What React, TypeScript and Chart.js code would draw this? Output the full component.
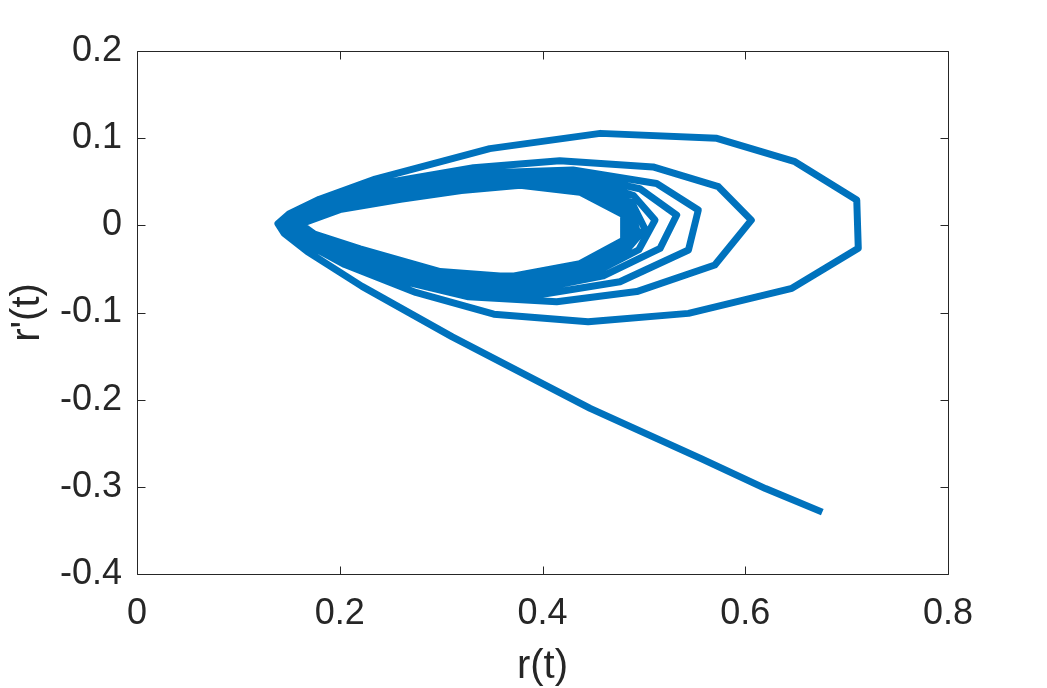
import { useEffect, useRef } from "react";
import { Chart, registerables } from "chart.js";

Chart.register(...registerables);

// Axis ticks
const xTicks = [0, 0.2, 0.4, 0.6, 0.8];
const xTickLabels = ["0", "0.2", "0.4", "0.6", "0.8"];
const yTicks = [-0.4, -0.3, -0.2, -0.1, 0, 0.1, 0.2];
const yTickLabels = ["-0.4", "-0.3", "-0.2", "-0.1", "0", "0.1", "0.2"];

const xTitle = "r(t)";
const yTitle = "r'(t)";

// Trajectory segments [r, r']
const tail: [number, number][] = [
  [0.676, -0.329], [0.62, -0.302], [0.557, -0.268], [0.447, -0.21],
  [0.311, -0.128], [0.222, -0.07], [0.168, -0.03], [0.145, -0.009],
];
const loop1: [number, number][] = [
  [0.139, 0.002], [0.15, 0.013], [0.18, 0.03], [0.235, 0.053], [0.348, 0.088],
  [0.457, 0.1055], [0.572, 0.0998], [0.649, 0.073], [0.71, 0.029], [0.7115, -0.0264],
  [0.646, -0.0723], [0.544, -0.101], [0.445, -0.1106], [0.352, -0.102], [0.275, -0.077],
  [0.205, -0.045], [0.162, -0.018],
];
const loop2: [number, number][] = [
  [0.142, 0.002], [0.155, 0.014], [0.19, 0.031], [0.236, 0.047], [0.332, 0.066],
  [0.417, 0.074], [0.509, 0.067], [0.5735, 0.0443], [0.606, 0.006], [0.57, -0.0455],
  [0.493, -0.076], [0.414, -0.0876], [0.327, -0.082], [0.262, -0.064], [0.205, -0.038],
  [0.165, -0.014],
];
const loop3: [number, number][] = [
  [0.145, 0.002], [0.16, 0.015], [0.2, 0.031], [0.255, 0.046], [0.34, 0.06],
  [0.43, 0.0634], [0.5126, 0.048], [0.5537, 0.0176], [0.544, -0.0283], [0.4764, -0.0647],
  [0.4, -0.079], [0.32, -0.077], [0.255, -0.06], [0.2, -0.034], [0.166, -0.012],
];
const loop4: [number, number][] = [
  [0.148, 0.002], [0.165, 0.015], [0.21, 0.032], [0.27, 0.046], [0.355, 0.057],
  [0.44, 0.056], [0.496, 0.042], [0.5324, 0.0118], [0.516, -0.0264], [0.46, -0.058],
  [0.39, -0.074], [0.31, -0.073], [0.245, -0.056], [0.195, -0.031], [0.167, -0.011],
];
const loop5: [number, number][] = [
  [0.15, 0.002], [0.168, 0.016], [0.215, 0.033], [0.28, 0.046], [0.365, 0.054],
  [0.445, 0.051], [0.49, 0.034], [0.511, 0.006], [0.495, -0.028], [0.45, -0.055],
  [0.38, -0.07], [0.3, -0.069], [0.238, -0.052], [0.19, -0.028], [0.168, -0.01],
];
const loop6: [number, number][] = [
  [0.152, 0.002], [0.172, 0.017], [0.22, 0.033], [0.29, 0.045], [0.372, 0.051],
  [0.445, 0.046], [0.488, 0.026], [0.501, -0.004], [0.478, -0.035], [0.425, -0.057],
  [0.355, -0.066], [0.285, -0.064], [0.228, -0.048], [0.185, -0.025], [0.166, -0.008],
];
const loop7: [number, number][] = [
  [0.154, 0.002], [0.176, 0.018], [0.225, 0.033], [0.3, 0.044], [0.378, 0.049],
  [0.447, 0.042], [0.486, 0.02], [0.494, -0.009], [0.468, -0.038], [0.41, -0.058],
  [0.34, -0.063], [0.275, -0.06], [0.222, -0.044], [0.182, -0.022], [0.165, -0.006],
];
const loop8: [number, number][] = [
  [0.156, 0.002], [0.18, 0.018], [0.23, 0.032], [0.305, 0.043], [0.38, 0.048],
  [0.443, 0.04], [0.483, 0.017], [0.489, -0.012], [0.46, -0.04], [0.4, -0.058],
  [0.33, -0.061], [0.268, -0.057], [0.218, -0.041], [0.18, -0.019], [0.164, -0.005],
];
const loop9: [number, number][] = [
  [0.158, 0.002], [0.185, 0.018], [0.235, 0.031], [0.31, 0.042], [0.382, 0.047],
  [0.44, 0.039], [0.481, 0.015], [0.485, -0.015], [0.452, -0.042], [0.39, -0.058],
  [0.32, -0.058], [0.26, -0.051], [0.213, -0.037], [0.178, -0.016], [0.163, -0.003],
];
const loop10: [number, number][] = [
  [0.16, 0.002], [0.19, 0.019], [0.24, 0.03], [0.31, 0.04], [0.379, 0.046],
  [0.438, 0.038], [0.48, 0.013], [0.482, -0.016], [0.442, -0.043], [0.375, -0.059],
  [0.305, -0.055], [0.245, -0.043], [0.2, -0.027], [0.172, -0.011], [0.162, -0.001],
];
const loop11: [number, number][] = [
  [0.162, 0.002], [0.2, 0.018], [0.26, 0.03], [0.32, 0.04], [0.378, 0.046],
  [0.437, 0.038], [0.48, 0.012], [0.48, -0.017], [0.437, -0.044], [0.368, -0.059],
  [0.299, -0.053], [0.22, -0.027], [0.175, -0.01], [0.163, 0.0],
];

const segments = [tail, loop1, loop2, loop3, loop4, loop5, loop6, loop7, loop8, loop9, loop10, loop11];

const FONT = "'Liberation Sans', Arial, Helvetica, sans-serif";
const INK = "#262626";

const framePlugin = {
  id: "matlabFrame",
  afterDatasetsDraw(chart: any) {
    const { ctx, chartArea, scales } = chart;
    const L = Math.round(chartArea.left) + 0.5;
    const R = Math.round(chartArea.right) + 0.5;
    const T = Math.round(chartArea.top) + 0.5;
    const B = Math.round(chartArea.bottom) + 0.5;
    const len = 8;
    ctx.save();
    ctx.strokeStyle = INK;
    ctx.lineWidth = 1;
    ctx.beginPath();
    ctx.rect(L, T, R - L, B - T);
    xTicks.forEach((v) => {
      const px = Math.round(scales.x.getPixelForValue(v)) + 0.5;
      ctx.moveTo(px, B);
      ctx.lineTo(px, B - len);
      ctx.moveTo(px, T);
      ctx.lineTo(px, T + len);
    });
    yTicks.forEach((v) => {
      const py = Math.round(scales.y.getPixelForValue(v)) + 0.5;
      ctx.moveTo(L, py);
      ctx.lineTo(L + len, py);
      ctx.moveTo(R, py);
      ctx.lineTo(R - len, py);
    });
    ctx.stroke();
    ctx.restore();
  },
};

export default function App() {
  const canvasRef = useRef<HTMLCanvasElement | null>(null);

  useEffect(() => {
    if (!canvasRef.current) return;
    const points = segments.flat().map(([x, y]) => ({ x, y }));
    const chart = new Chart(canvasRef.current, {
      type: "scatter",
      data: {
        datasets: [
          {
            data: points,
            showLine: true,
            borderColor: "#0072BD",
            backgroundColor: "#0072BD",
            borderWidth: 7,
            pointRadius: 0,
            pointHoverRadius: 0,
            tension: 0,
            borderJoinStyle: "round",
            borderCapStyle: "butt",
          } as any,
        ],
      },
      options: {
        animation: false,
        responsive: false,
        devicePixelRatio: 1,
        events: [],
        layout: { padding: { left: 0, right: 99, top: 51, bottom: 0 } },
        plugins: {
          legend: { display: false },
          tooltip: { enabled: false },
        },
        scales: {
          x: {
            type: "linear",
            min: 0,
            max: 0.8,
            grid: { display: false, drawTicks: false },
            border: { display: false },
            afterBuildTicks: (scale: any) => {
              scale.ticks = xTicks.map((v) => ({ value: v }));
            },
            afterFit: (scale: any) => {
              scale.height = 114;
            },
            ticks: {
              padding: 18,
              maxRotation: 0,
              autoSkip: false,
              color: INK,
              font: { family: FONT, size: 36 },
              callback: (value: any) => xTickLabels[xTicks.indexOf(Number(value))],
            },
            title: {
              display: true,
              text: xTitle,
              color: INK,
              font: { family: FONT, size: 40 },
              padding: { top: 0, bottom: -3 },
            },
          },
          y: {
            type: "linear",
            min: -0.4,
            max: 0.2,
            grid: { display: false, drawTicks: false },
            border: { display: false },
            afterBuildTicks: (scale: any) => {
              scale.ticks = yTicks.map((v) => ({ value: v }));
            },
            afterFit: (scale: any) => {
              scale.width = 137;
            },
            ticks: {
              padding: 15,
              autoSkip: false,
              color: INK,
              font: { family: FONT, size: 36 },
              callback: (value: any) => yTickLabels[yTicks.indexOf(Number(value))],
            },
            title: {
              display: true,
              text: yTitle,
              color: INK,
              font: { family: FONT, size: 40 },
              padding: { top: 4, bottom: 0 },
            },
          },
        },
      },
      plugins: [framePlugin],
    });
    return () => chart.destroy();
  }, []);

  return (
    <div style={{ position: "absolute", left: 0, top: 0, width: 1047, height: 688, background: "#fff" }}>
      <canvas ref={canvasRef} width={1047} height={688} style={{ width: 1047, height: 688 }} />
    </div>
  );
}
